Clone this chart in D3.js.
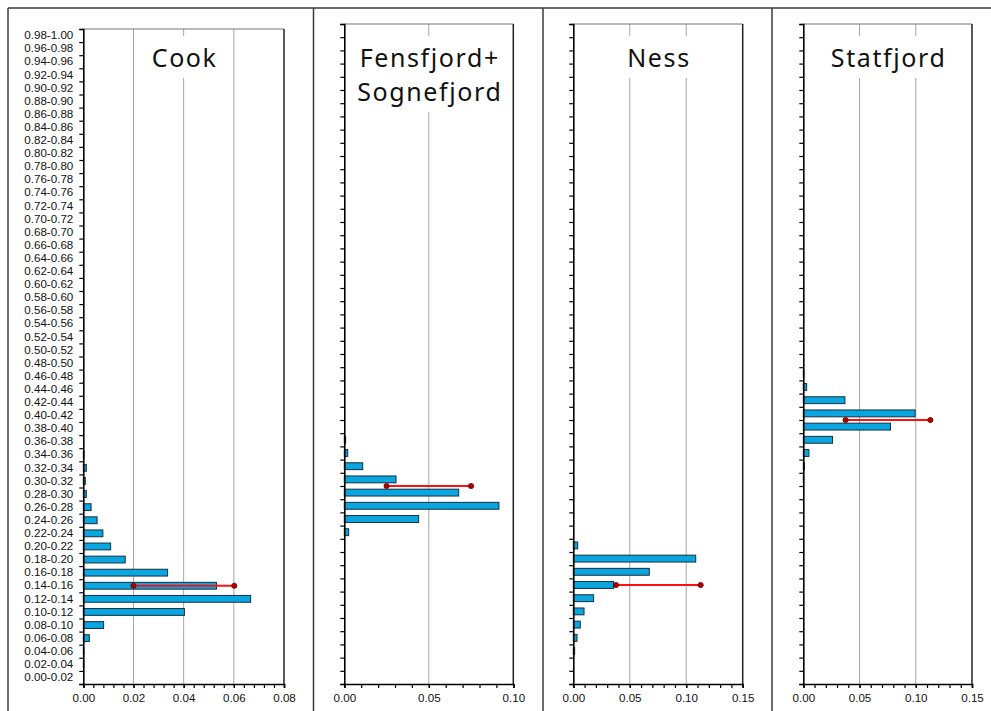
<!DOCTYPE html>
<html>
<head>
<meta charset="utf-8">
<script src="https://cdn.jsdelivr.net/npm/d3@7"></script>
<style>
  html, body { margin: 0; padding: 0; background: #fff; }
  svg { display: block; }
  .ylab text, .xax text { font-family: "Liberation Sans", Arial, sans-serif; font-size: 11.6px; fill: #111; }
  .title { font-family: "Noto Sans", sans-serif; font-size: 25px; fill: #111; letter-spacing: 1.6px; }
</style>
</head>
<body>
<svg id="chart" width="991" height="711"></svg>
<script>
// Porosity bins, bottom (0.00) to top (1.00)
const bins = [
  "0.00-0.02","0.02-0.04","0.04-0.06","0.06-0.08","0.08-0.10",
  "0.10-0.12","0.12-0.14","0.14-0.16","0.16-0.18","0.18-0.20",
  "0.20-0.22","0.22-0.24","0.24-0.26","0.26-0.28","0.28-0.30",
  "0.30-0.32","0.32-0.34","0.34-0.36","0.36-0.38","0.38-0.40",
  "0.40-0.42","0.42-0.44","0.44-0.46","0.46-0.48","0.48-0.50",
  "0.50-0.52","0.52-0.54","0.54-0.56","0.56-0.58","0.58-0.60",
  "0.60-0.62","0.62-0.64","0.64-0.66","0.66-0.68","0.68-0.70",
  "0.70-0.72","0.72-0.74","0.74-0.76","0.76-0.78","0.78-0.80",
  "0.80-0.82","0.82-0.84","0.84-0.86","0.86-0.88","0.88-0.90",
  "0.90-0.92","0.92-0.94","0.94-0.96","0.96-0.98","0.98-1.00"
];

// Frequencies per bin (same order as bins)
const cook = [
  0, 0.0002, 0.0002, 0.0024, 0.0081, 0.0403, 0.0667, 0.0531, 0.0336, 0.0167,
  0.0109, 0.0078, 0.0055, 0.0031, 0.0012, 0.0008, 0.0012, 0.0003, 0, 0,
  0, 0, 0, 0, 0, 0, 0, 0, 0, 0,
  0, 0, 0, 0, 0, 0, 0, 0, 0, 0,
  0, 0, 0, 0, 0, 0, 0, 0, 0, 0
];
const fensfjordSognefjord = [
  0, 0, 0, 0, 0, 0, 0, 0, 0, 0,
  0, 0.0026, 0.044, 0.0915, 0.0677, 0.0306, 0.0109, 0.002, 0.0008, 0,
  0, 0, 0, 0, 0, 0, 0, 0, 0, 0,
  0, 0, 0, 0, 0, 0, 0, 0, 0, 0,
  0, 0, 0, 0, 0, 0, 0, 0, 0, 0
];
const ness = [
  0, 0, 0.0012, 0.0033, 0.0062, 0.0095, 0.018, 0.0357, 0.0673, 0.1084,
  0.0039, 0, 0, 0, 0, 0, 0, 0, 0, 0,
  0, 0, 0, 0, 0, 0, 0, 0, 0, 0,
  0, 0, 0, 0, 0, 0, 0, 0, 0, 0,
  0, 0, 0, 0, 0, 0, 0, 0, 0, 0
];
const statfjord = [
  0, 0, 0, 0, 0, 0, 0, 0, 0, 0,
  0, 0, 0, 0, 0, 0.0003, 0.001, 0.005, 0.026, 0.0775,
  0.0994, 0.037, 0.003, 0.0005, 0, 0, 0, 0, 0, 0,
  0, 0, 0, 0, 0, 0, 0, 0, 0, 0,
  0, 0, 0, 0, 0, 0, 0, 0, 0, 0
];

// Range markers: porosity level and frequency span
const rangePorosity = [0.15, 0.30, 0.15, 0.40];
const rangeLow  = [0.02, 0.025, 0.0378, 0.0376];
const rangeHigh = [0.0602, 0.075, 0.1128, 0.113];

// Panel titles and x-axis extents
const titles = [["Cook"], ["Fensfjord+", "Sognefjord"], ["Ness"], ["Statfjord"]];
const xMax = [0.08, 0.10, 0.15, 0.15];
const xMajor = [0.02, 0.05, 0.05, 0.05];
const xMinor = [0.004, 0.01, 0.01, 0.01];
const series = [cook, fensfjordSognefjord, ness, statfjord];

// Plot rectangles for each panel
const layout = [
  { x0: 83.3, x1: 284, y0: 29, y1: 684, labels: true },
  { x0: 344.3, x1: 513.3, y0: 24, y1: 684, labels: false },
  { x0: 573.3, x1: 742.7, y0: 24, y1: 684, labels: false },
  { x0: 803.3, x1: 972, y0: 24, y1: 684, labels: false }
];

const svg = d3.select("#chart");

// Outer panel frames
const frame = svg.append("g").attr("stroke", "#3a3a3a").attr("stroke-width", 1.5).attr("fill", "none");
frame.append("line").attr("x1", 8).attr("x2", 991).attr("y1", 8).attr("y2", 8);
[8, 313.5, 543, 772].forEach(x =>
  frame.append("line").attr("x1", x).attr("x2", x).attr("y1", 8).attr("y2", 711));

const fmt2 = d3.format(".2f");

series.forEach((vals, i) => {
  const L = layout[i];
  const g = svg.append("g");

  const x = d3.scaleLinear().domain([0, xMax[i]]).range([L.x0, L.x1]);
  const yb = d3.scaleBand().domain(bins).range([L.y1, L.y0]).padding(0);
  const yl = d3.scaleLinear().domain([0, 1]).range([L.y1, L.y0]);

  const majors = d3.range(0, xMax[i] + 1e-9, xMajor[i]);
  const minors = d3.range(0, xMax[i] + 1e-9, xMinor[i]);

  // Vertical gridlines
  g.append("g").selectAll("line")
    .data(majors.filter(v => v > 1e-9 && v < xMax[i] - 1e-9))
    .join("line")
    .attr("x1", d => x(d)).attr("x2", d => x(d))
    .attr("y1", L.y0).attr("y2", L.y1)
    .attr("stroke", "#a6a6a6").attr("stroke-width", 1);

  // Title with white backing
  const tg = g.append("g");
  const cx = (L.x0 + L.x1) / 2 + 1;
  const lines = titles[i];
  const txt = tg.append("text").attr("class", "title").attr("text-anchor", "middle");
  lines.forEach((t, j) => {
    txt.append("tspan").attr("x", cx).attr("y", 67 + j * 34).text(t);
  });
  const bb = txt.node().getBBox();
  tg.insert("rect", "text")
    .attr("x", bb.x - 4).attr("y", bb.y - 4)
    .attr("width", bb.width + 8).attr("height", bb.height + 8)
    .attr("fill", "#fff");

  // Plot border (top grey, right dark)
  g.append("line").attr("x1", L.x0).attr("x2", L.x1).attr("y1", L.y0).attr("y2", L.y0)
    .attr("stroke", "#777").attr("stroke-width", 1.2);
  g.append("line").attr("x1", L.x1).attr("x2", L.x1).attr("y1", L.y0).attr("y2", L.y1)
    .attr("stroke", "#222").attr("stroke-width", 1.5);

  // Bars
  const bh = yb.bandwidth() * 0.52;
  g.append("g").selectAll("rect")
    .data(bins.map((b, k) => ({ b, v: vals[k] })).filter(d => d.v > 0))
    .join("rect")
    .attr("x", x(0))
    .attr("y", d => yb(d.b) + (yb.bandwidth() - bh) / 2)
    .attr("width", d => x(d.v) - x(0))
    .attr("height", bh)
    .attr("fill", "#0aa6e2")
    .attr("stroke", "#15303c")
    .attr("stroke-width", 1);

  // Range marker
  const ry = yl(rangePorosity[i]);
  const rg = g.append("g");
  rg.append("line")
    .attr("x1", x(rangeLow[i])).attr("x2", x(rangeHigh[i]))
    .attr("y1", ry).attr("y2", ry)
    .attr("stroke", "#ff1010").attr("stroke-width", 2);
  rg.selectAll("circle").data([rangeLow[i], rangeHigh[i]]).join("circle")
    .attr("cx", d => x(d)).attr("cy", ry).attr("r", 2.6)
    .attr("fill", "#b00000").attr("stroke", "#6a0000").attr("stroke-width", 0.8);

  // Y axis: boundary ticks
  const yAxis = d3.axisLeft(yl)
    .tickValues(d3.range(0, 1.0001, 0.02))
    .tickSize(4).tickFormat("");
  const ya = g.append("g").attr("transform", `translate(${L.x0},0)`).call(yAxis);
  ya.select(".domain").attr("stroke", "#000").attr("stroke-width", 1.6);
  ya.selectAll(".tick line").attr("stroke", "#000").attr("stroke-width", 1.2);

  // Y axis: bin labels
  if (L.labels) {
    const lab = g.append("g").attr("class", "ylab")
      .attr("transform", `translate(${L.x0},0)`)
      .call(d3.axisLeft(yb).tickSize(0).tickPadding(10));
    lab.select(".domain").remove();
    lab.selectAll("text").attr("font-family", null).attr("font-size", null);
  }

  // X axis: minor ticks then labelled majors
  const xm = g.append("g").attr("transform", `translate(0,${L.y1})`)
    .call(d3.axisBottom(x).tickValues(minors).tickSize(4).tickFormat(""));
  xm.select(".domain").attr("stroke", "#000").attr("stroke-width", 1.6);
  xm.selectAll(".tick line").attr("stroke", "#000").attr("stroke-width", 1.2);

  const xa = g.append("g").attr("class", "xax").attr("transform", `translate(0,${L.y1})`)
    .call(d3.axisBottom(x).tickValues(majors).tickSize(4).tickPadding(6).tickFormat(fmt2));
  xa.select(".domain").remove();
  xa.selectAll(".tick line").attr("stroke", "#000").attr("stroke-width", 1.2);
  xa.selectAll("text").attr("font-family", null).attr("font-size", null);
});
</script>
</body>
</html>
